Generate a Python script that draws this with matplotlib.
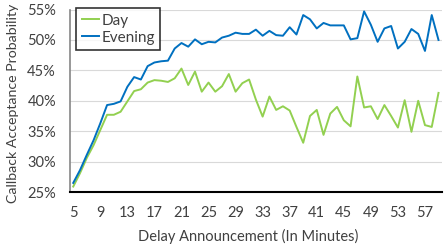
import matplotlib
matplotlib.use("Agg")
import matplotlib.pyplot as plt
from matplotlib.ticker import PercentFormatter

# Delay announcement (minutes)
minutes = list(range(5, 60))

# Acceptance probability (%)
day = [25.9, 28.1, 30.6, 32.7, 35.2, 37.7, 37.7, 38.2, 39.9, 41.6,
       41.9, 43.0, 43.4, 43.3, 43.1, 43.7, 45.3, 42.6, 44.8, 41.5,
       43.0, 41.5, 42.4, 44.4, 41.5, 42.9, 43.5, 40.2, 37.4, 40.7,
       38.5, 39.1, 38.4, 35.7, 33.1, 37.5, 38.5, 34.4, 37.9, 39.0,
       36.8, 35.8, 44.0, 38.9, 39.1, 37.0, 39.3, 37.5, 35.6, 40.1,
       34.9, 40.0, 36.0, 35.7, 41.3]
evening = [26.5, 28.6, 31.1, 33.5, 36.3, 39.3, 39.5, 39.9, 42.3, 43.9,
           43.5, 45.7, 46.3, 46.5, 46.6, 48.6, 49.5, 48.9, 50.1, 49.3,
           49.7, 49.6, 50.4, 50.7, 51.2, 51.0, 51.0, 51.7, 50.7, 51.5,
           50.8, 50.7, 52.1, 50.9, 54.1, 53.4, 51.9, 52.8, 52.4, 52.4,
           52.4, 50.1, 50.3, 54.7, 52.5, 49.7, 51.9, 52.3, 48.6, 49.7,
           51.8, 51.0, 48.2, 54.1, 50.0]

xticks = list(range(5, 60, 4))

plt.rcParams['font.family'] = ['Lato', 'DejaVu Sans']

fig = plt.figure(figsize=(4.45, 2.52), dpi=100)
ax = fig.add_axes([0.157, 0.238, 0.836, 0.724])

ax.plot(minutes, day, color='#92D050', lw=1.4, label='Day')
ax.plot(minutes, evening, color='#0070C0', lw=1.4, label='Evening')

ax.set_xlim(4.5, 59.5)
ax.set_ylim(25, 55)
ax.set_xticks(xticks)
ax.set_yticks(range(25, 56, 5))
ax.yaxis.set_major_formatter(PercentFormatter(decimals=0))
ax.grid(axis='y', color='#D9D9D9', lw=0.8)
ax.set_axisbelow(True)

for s in ['top', 'right']:
    ax.spines[s].set_visible(False)
ax.spines['left'].set_color('#868686')
ax.spines['left'].set_linewidth(1.2)
ax.spines['bottom'].set_color('black')
ax.spines['bottom'].set_linewidth(1.5)
ax.tick_params(length=0, labelsize=10.5, colors='#404040')
ax.tick_params(axis='y', pad=10)
ax.tick_params(axis='x', pad=10)

ax.set_xlabel('Delay Announcement (In Minutes)', fontsize=10.5, color='#404040')
ax.xaxis.set_label_coords((248 - 70) / 372, -(236.7 - 192) / 182.4, transform=ax.transAxes)
ax.xaxis.label.set_va('center')
ax.set_ylabel('Callback Acceptance Probability', fontsize=10.2, color='#404040')
ax.yaxis.set_label_coords(-(70 - 13) / 372, (192 - 103) / 182.4, transform=ax.transAxes)
ax.yaxis.label.set_va('center')

leg = ax.legend(loc='upper left', bbox_to_anchor=(6.5 / 372, 1.007), fontsize=11,
                frameon=True, fancybox=False, edgecolor='black',
                handlelength=1.15, handletextpad=0.15, borderpad=0.35, labelspacing=0.2,
                borderaxespad=0)
leg.get_frame().set_linewidth(1.2)
for t in leg.get_texts():
    t.set_color('#404040')

plt.savefig('out.png', dpi=100)
